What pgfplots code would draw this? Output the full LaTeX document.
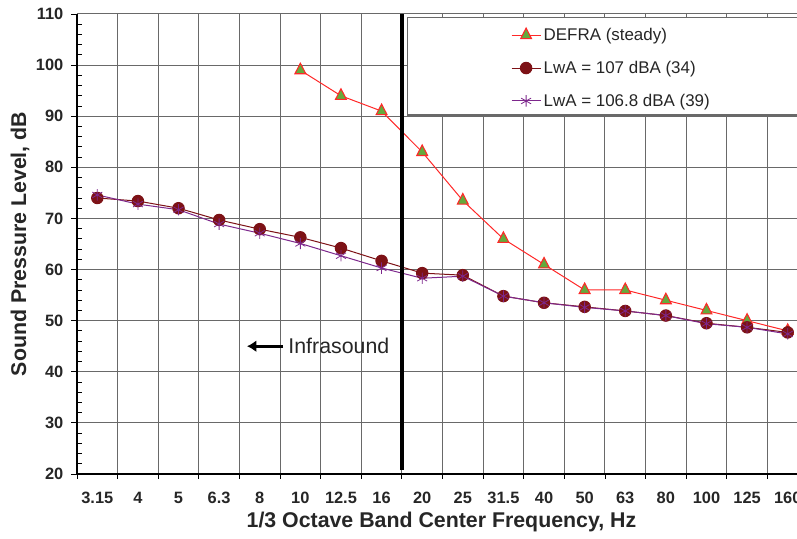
\documentclass[border=0pt]{standalone}
\usepackage{pgfplots}
\pgfplotsset{compat=1.18}
\usepackage{fontspec}
\setmainfont{Liberation Sans}
\usetikzlibrary{arrows.meta}
\definecolor{defraRed}{RGB}{255,40,40}
\definecolor{defraGreen}{RGB}{100,170,60}
\definecolor{maroonc}{RGB}{125,18,22}
\definecolor{purp}{RGB}{125,40,140}
\definecolor{gridc}{RGB}{105,105,105}
\begin{document}
\begin{tikzpicture}
\path[use as bounding box, clip] (-57.75pt,-48.75pt) rectangle (540pt,355.5pt);
\begin{axis}[
  at={(0,0)}, anchor=south west,
  scale only axis, width=548.25pt, height=345pt,
  xmin=-0.5, xmax=17.5, ymin=20, ymax=110,
  axis lines*=left,
  axis line style={black, line width=0.8pt},
  xtick={0,...,17},
  xticklabels={3.15,4,5,6.3,8,10,12.5,16,20,25,31.5,40,50,63,80,100,125,160},
  major x tick style={draw=none},
  minor xtick={-0.5,0.5,...,17.5},
  ytick={20,30,...,110},
  minor y tick num=4,
  xminorgrids=true, ymajorgrids=true, xmajorgrids=false,
  grid style={gridc, line width=0.75pt},
  minor grid style={gridc, line width=0.75pt},
  tick align=outside,
  major tick length=4.2pt, minor tick length=3.6pt,
  tick style={black, line width=0.6pt},
  minor y tick style={xshift=3.4pt},
  /pgf/number format/assume math mode=true,
  ticklabel style={font=\bfseries\fontsize{12.3}{14}\selectfont, text=black!85},
  xticklabel style={yshift=-6pt},
  yticklabel style={xshift=-2.5pt},
  every axis x label/.style={at={(axis description cs:0.4986,-0.104)}, anchor=center},
  every axis y label/.style={at={(axis description cs:-0.078,0.5)}, rotate=90, anchor=center},
  label style={font=\bfseries\fontsize{16}{19}\selectfont, text=black!85},
  xlabel={1/3 Octave Band Center Frequency, Hz},
  ylabel={Sound Pressure Level, dB},
  legend style={draw=none, fill=none, at={(axis description cs:0.5936,0.976)}, anchor=north west,
    font=\fontsize{12.7}{15}\selectfont, row sep=10pt, inner sep=0pt, text=black!85},
  legend cell align=left,
  legend image code/.code={\draw[mark repeat=2,mark phase=2] plot coordinates {(0cm,0cm) (0.38cm,0cm) (0.76cm,0cm)};},
]
\draw[gridc, line width=0.8pt, fill=white] (axis cs:7.628,109.4) rectangle (axis cs:18,90.24);

\addplot[defraRed, line width=0.75pt, mark=triangle*, mark size=4.7pt,
  mark options={fill=defraGreen, draw=defraRed, line width=0.8pt, yscale=1.12}]
  coordinates {(5,99)(6,94)(7,91)(8,83)(9,73.5)(10,66)(11,61)(12,56)(13,56)(14,54)(15,52)(16,50)(17,48)};
\addlegendentry{DEFRA (steady)}

\addplot[maroonc, line width=0.75pt, mark=*, mark size=4.3pt,
  mark options={fill=maroonc, draw=maroonc}]
  coordinates {(0,74)(1,73.4)(2,72)(3,69.7)(4,67.9)(5,66.3)(6,64.2)(7,61.7)(8,59.3)(9,58.9)(10,54.8)(11,53.5)(12,52.7)(13,51.9)(14,51.0)(15,49.5)(16,48.7)(17,47.7)};
\addlegendentry{LwA = 107 dBA (34)}

\addplot[purp, line width=0.75pt, mark=asterisk, mark size=4.3pt,
  mark options={draw=purp, line width=0.6pt}]
  coordinates {(0,74.6)(1,72.8)(2,71.7)(3,68.9)(4,67.1)(5,65.1)(6,62.7)(7,60.3)(8,58.3)(9,58.7)(10,54.8)(11,53.5)(12,52.6)(13,51.9)(14,51.0)(15,49.4)(16,48.7)(17,47.4)};
\addlegendentry{LwA = 106.8 dBA (39)}

\draw[black, line width=3pt] (axis cs:7.5,20.7) -- (axis cs:7.5,110);
\draw[-{Latex[length=7pt,width=9pt]}, line width=2pt, black] (axis cs:4.574,45) -- (axis cs:3.687,45);
\node[anchor=west, inner sep=0pt, font=\fontsize{16}{19}\selectfont, text=black!85] at (axis cs:4.70,45) {Infrasound};
\end{axis}
\end{tikzpicture}
\end{document}
